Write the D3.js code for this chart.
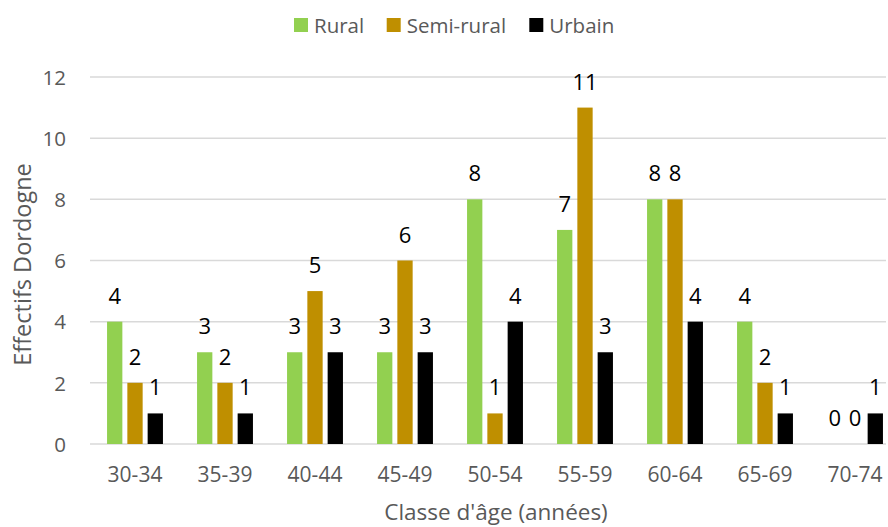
<!DOCTYPE html>
<html>
<head>
<meta charset="utf-8">
<script src="https://cdn.jsdelivr.net/npm/d3@7"></script>
<style>
  html, body { margin: 0; padding: 0; background: #fff; }
  svg { display: block; font-family: "Open Sans", sans-serif; }
</style>
</head>
<body>
<svg id="chart" width="888" height="527"></svg>
<script>
const categories = ["30-34", "35-39", "40-44", "45-49", "50-54", "55-59", "60-64", "65-69", "70-74"];
const seriesNames = ["Rural", "Semi-rural", "Urbain"];
const rural = [4, 3, 3, 3, 8, 7, 8, 4, 0];
const semiRural = [2, 2, 5, 6, 1, 11, 8, 2, 0];
const urbain = [1, 1, 3, 3, 4, 3, 4, 1, 1];
const yTicks = [0, 2, 4, 6, 8, 10, 12];
const colors = ["#92D050", "#BF8F00", "#000000"];

const seriesValues = [rural, semiRural, urbain];
const data = categories.map((c, i) => ({
  cat: c,
  values: seriesNames.map((s, j) => ({ series: s, idx: j, value: seriesValues[j][i] }))
}));

const svg = d3.select("#chart");
const plot = { left: 90, right: 900, top: 77, bottom: 444 };

const x0 = d3.scaleBand().domain(categories).range([plot.left, plot.right]).paddingInner(0).paddingOuter(0);
const groupW = 55.9;
const x1 = d3.scaleBand().domain(seriesNames)
  .range([x0.bandwidth() / 2 - groupW / 2, x0.bandwidth() / 2 + groupW / 2])
  .paddingInner(0.246).paddingOuter(0);
const y = d3.scaleLinear().domain([0, 12]).range([plot.bottom, plot.top]);

// gridlines
svg.append("g").selectAll("line").data(yTicks).join("line")
  .attr("x1", plot.left).attr("x2", 886)
  .attr("y1", d => y(d)).attr("y2", d => y(d))
  .attr("stroke", "#d9d9d9").attr("stroke-width", 1.5);

// y axis labels
const yAxis = d3.axisLeft(y).tickValues(yTicks).tickSize(0).tickPadding(0);
const ya = svg.append("g").attr("transform", `translate(66,0)`).call(yAxis);
ya.select(".domain").remove();
ya.selectAll("text").attr("font-size", 20.5).attr("fill", "#595959")
  .attr("font-family", "Open Sans, sans-serif").attr("dy", "0.35em");

// x axis labels
const xAxis = d3.axisBottom(x0).tickSize(0).tickPadding(0);
const xa = svg.append("g").attr("transform", `translate(0,${plot.bottom + 23})`).call(xAxis);
xa.select(".domain").remove();
xa.selectAll("text").attr("font-size", 21).attr("fill", "#595959")
  .attr("font-family", "Open Sans, sans-serif").attr("dy", "0.71em");

// bars
const groups = svg.append("g").selectAll("g").data(data).join("g")
  .attr("transform", d => `translate(${x0(d.cat)},0)`);

groups.selectAll("rect").data(d => d.values.filter(v => v.value > 0)).join("rect")
  .attr("x", d => x1(d.series))
  .attr("y", d => y(d.value))
  .attr("width", x1.bandwidth())
  .attr("height", d => y(0) - y(d.value))
  .attr("fill", d => colors[d.idx]);

groups.selectAll("text").data(d => d.values).join("text")
  .attr("x", d => x1(d.series) + x1.bandwidth() / 2)
  .attr("y", d => y(d.value) - 18)
  .attr("text-anchor", "middle")
  .attr("font-size", 22)
  .attr("fill", "#000")
  .text(d => d.value);

// axis titles
svg.append("text")
  .attr("x", (plot.left + plot.right) / 2 + 1).attr("y", 520)
  .attr("text-anchor", "middle").attr("font-size", 22.5).attr("fill", "#595959")
  .text("Classe d'âge (années)");

svg.append("text")
  .attr("transform", `translate(31,${(plot.top + plot.bottom) / 2 + 4}) rotate(-90)`)
  .attr("text-anchor", "middle").attr("font-size", 23.5).attr("fill", "#595959")
  .text("Effectifs Dordogne");

// legend
const legendX = [294, 386.7, 529.3];
const leg = svg.append("g").selectAll("g").data(seriesNames).join("g")
  .attr("transform", (d, i) => `translate(${legendX[i]},18)`);
leg.append("rect").attr("width", 14).attr("height", 14).attr("fill", (d, i) => colors[i]);
leg.append("text").attr("x", 20).attr("y", 14.5).attr("font-size", 20.5).attr("fill", "#595959").text(d => d);
</script>
</body>
</html>
